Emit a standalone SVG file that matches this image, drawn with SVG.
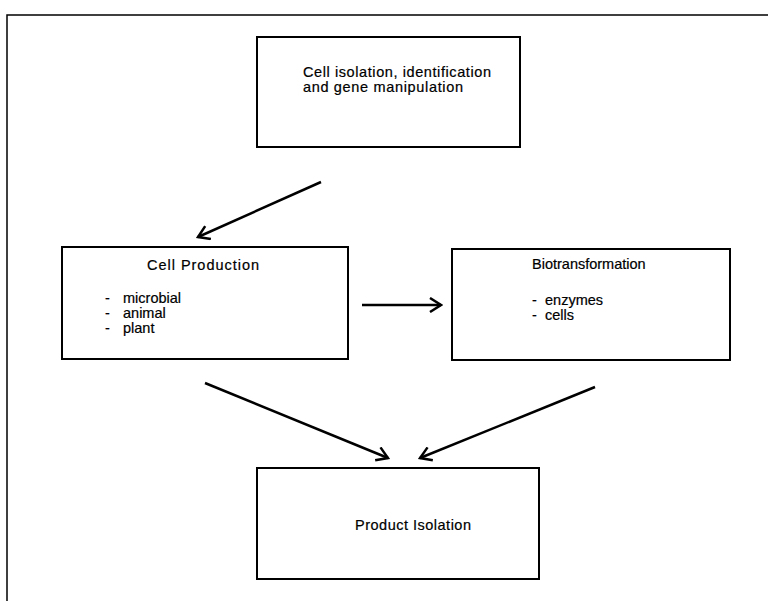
<svg xmlns="http://www.w3.org/2000/svg" width="768" height="601" viewBox="0 0 768 601">
<defs>
<style>
.box{fill:#fff;stroke:#000;stroke-width:2}
.t{font-family:"Liberation Sans",Arial,sans-serif;font-size:14.5px;fill:#000;stroke:#000;stroke-width:0.2}
.c{fill:none;stroke:#000;stroke-width:2.5}
</style>
<marker id="ah" viewBox="-13 -8 15 16" markerWidth="15" markerHeight="16" refX="0" refY="0" orient="auto" markerUnits="userSpaceOnUse">
<path d="M-11,-7 L0,0 L-11,7" fill="none" stroke="#000" stroke-width="2.5" stroke-linejoin="miter"/>
</marker>
</defs>
<rect width="768" height="601" fill="#fff"/>
<rect x="7" y="15" width="780" height="610" fill="none" stroke="#000" stroke-width="1.5"/>
<g id="n1">
<rect class="box" x="257" y="37" width="263" height="110"/>
<text class="t" x="303" y="77" textLength="188" lengthAdjust="spacing">Cell isolation, identification</text>
<text class="t" x="303" y="92" textLength="160" lengthAdjust="spacing">and gene manipulation</text>
</g>
<g id="n2">
<rect class="box" x="62" y="247" width="286" height="112"/>
<text class="t" x="147" y="270" textLength="112" lengthAdjust="spacing">Cell Production</text>
<text class="t" x="105" y="303">-</text><text class="t" x="123" y="303">microbial</text>
<text class="t" x="105" y="318">-</text><text class="t" x="123" y="318">animal</text>
<text class="t" x="105" y="333">-</text><text class="t" x="123" y="333">plant</text>
</g>
<g id="n3">
<rect class="box" x="452" y="249" width="278" height="111"/>
<text class="t" x="532" y="269">Biotransformation</text>
<text class="t" x="532" y="305">-</text><text class="t" x="545" y="305">enzymes</text>
<text class="t" x="532" y="320">-</text><text class="t" x="545" y="320">cells</text>
</g>
<g id="n4">
<rect class="box" x="257" y="468" width="282" height="111"/>
<text class="t" x="355" y="530" textLength="116" lengthAdjust="spacing">Product Isolation</text>
</g>
<g id="connectors">
<line class="c" x1="321" y1="182" x2="198" y2="237" marker-end="url(#ah)"/>
<line class="c" x1="362" y1="305" x2="441" y2="305" marker-end="url(#ah)"/>
<line class="c" x1="205" y1="383" x2="388" y2="458" marker-end="url(#ah)"/>
<line class="c" x1="595" y1="387" x2="420" y2="458" marker-end="url(#ah)"/>
</g>
</svg>
